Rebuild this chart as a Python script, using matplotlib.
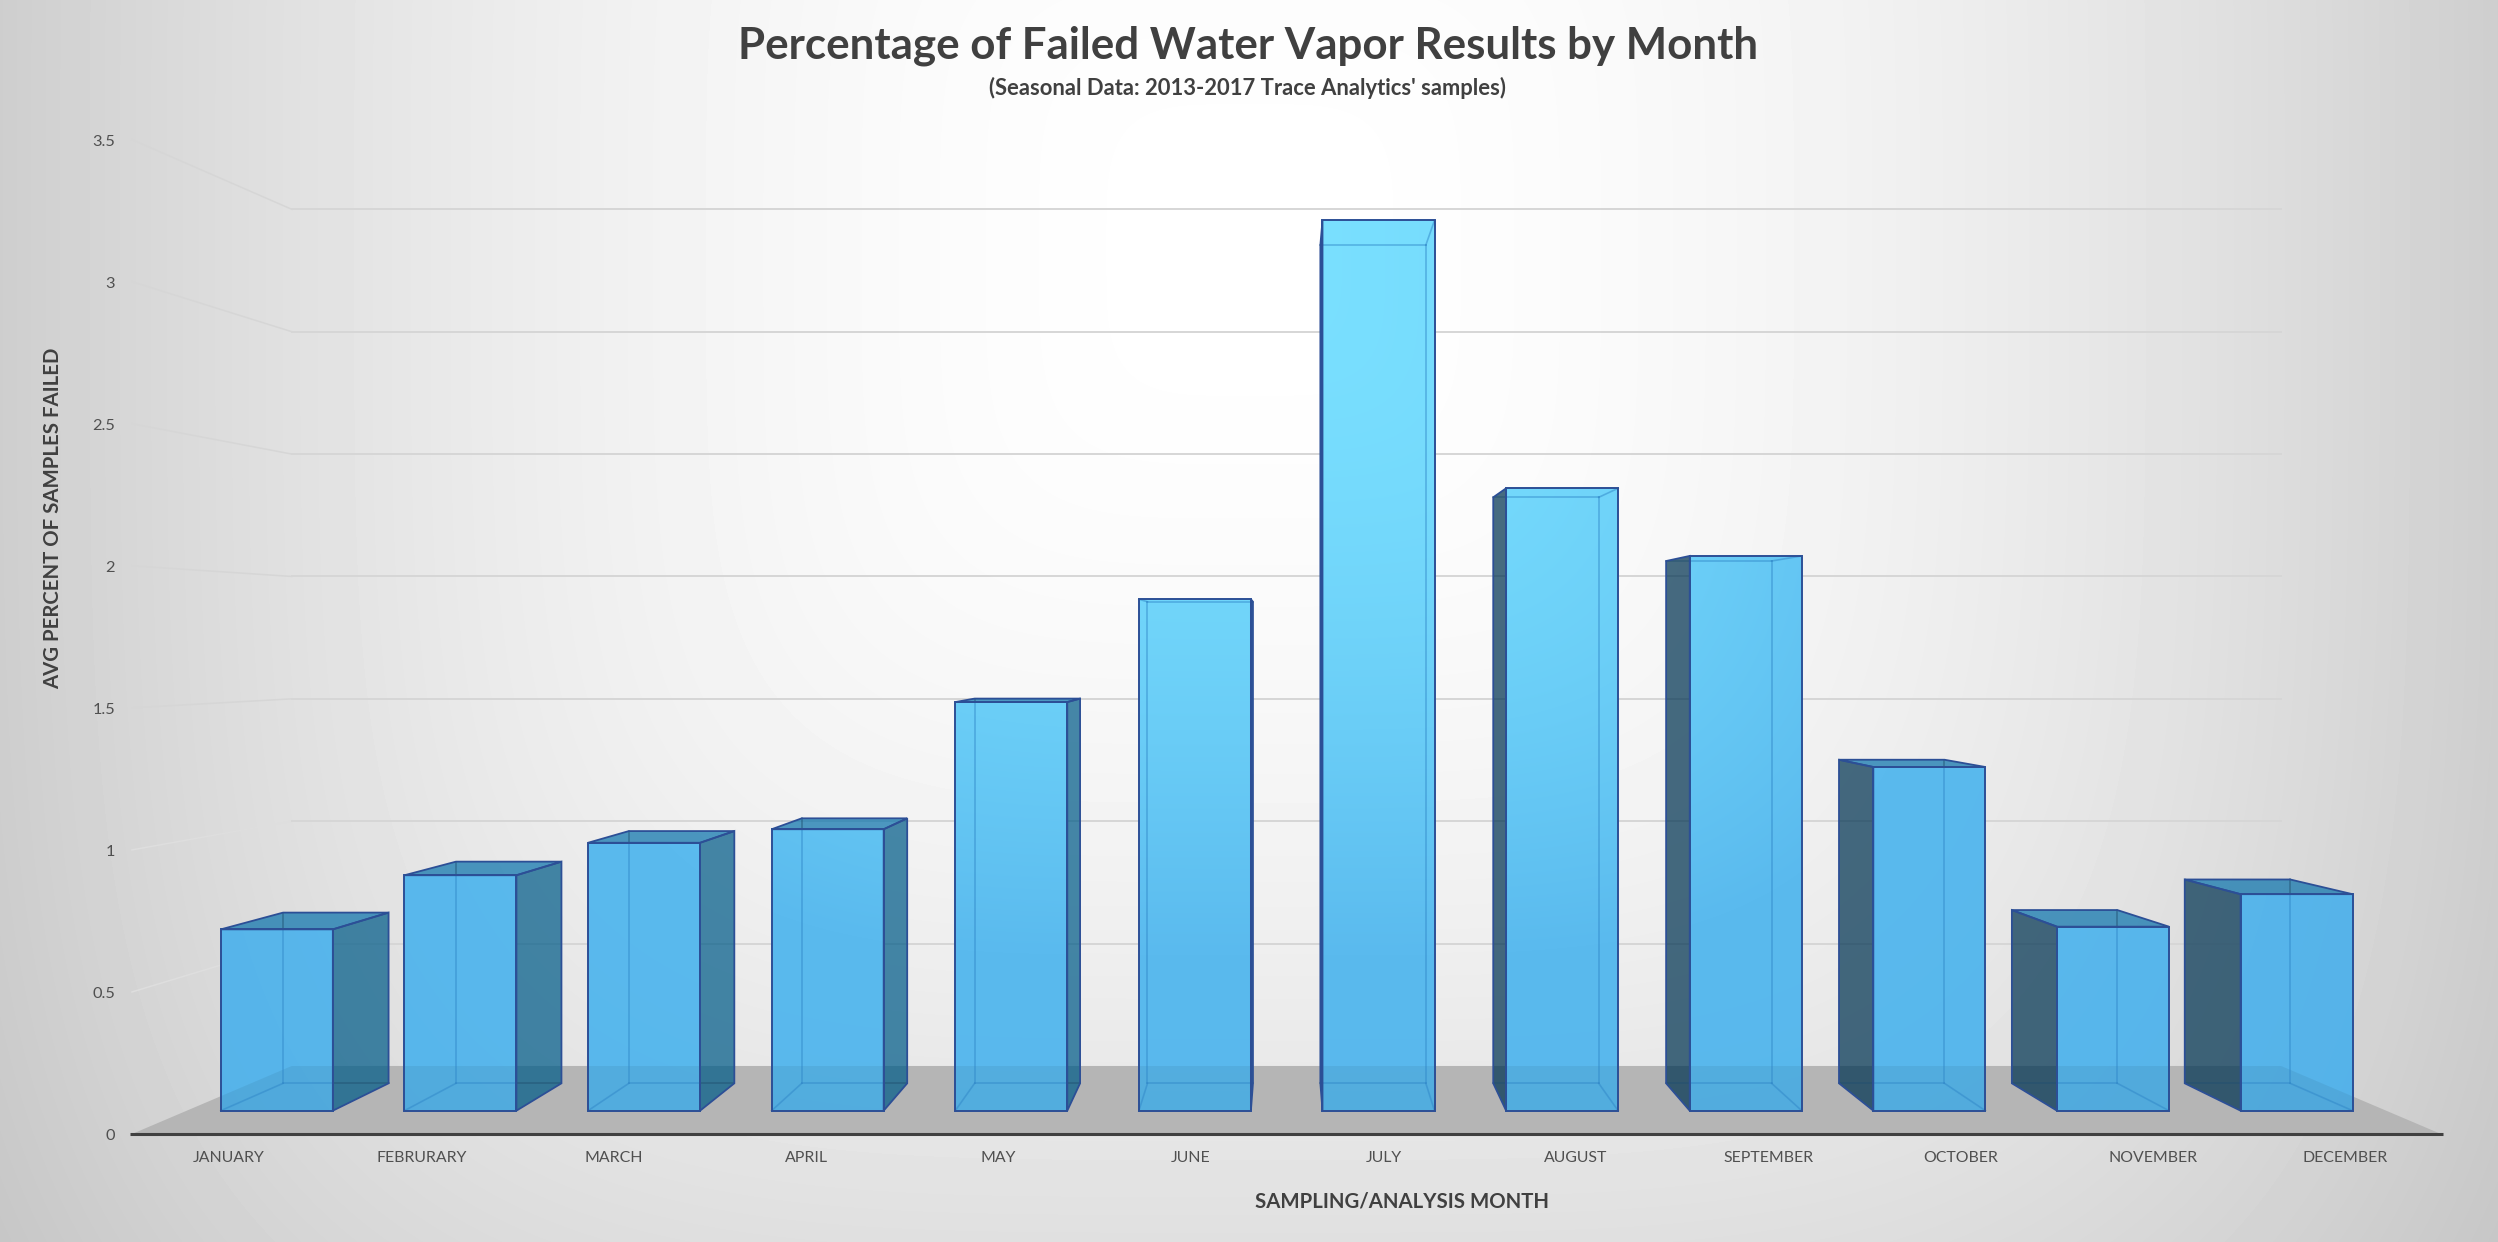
import numpy as np
import matplotlib
matplotlib.use("Agg")
import matplotlib.pyplot as plt
from matplotlib.patches import Polygon

plt.rcParams['font.family'] = ['Lato', 'DejaVu Sans']

months = ["JANUARY", "FEBRURARY", "MARCH", "APRIL", "MAY", "JUNE", "JULY",
          "AUGUST", "SEPTEMBER", "OCTOBER", "NOVEMBER", "DECEMBER"]
failed = [0.67, 0.87, 0.99, 1.04, 1.51, 1.89, 3.29, 2.30, 2.05, 1.27, 0.68, 0.80]
yticks = [0, 0.5, 1, 1.5, 2, 2.5, 3, 3.5]
yticklabels = ["0", "0.5", "1", "1.5", "2", "2.5", "3", "3.5"]

W, H = 2498, 1242

# perspective of the excel 3d chart, everything is in figure pixels
left, right = 132.0, 2441.0
base = 1134.0
unit = 284.1
cx, vy = 1286.0, 642.8
s_back = 0.8615   # wall
s_front_bar = 0.9525
s_back_bar = 0.8968
bar_first, bar_step = 226.5, 192.77
label_first, label_step = 229.0, 192.4
bar_w = 117.6


def project(x, v, s):
    return (cx + (x - cx) * s, vy + (base - vy) * s - v * unit * s)


def background():
    xx, yy = np.meshgrid(np.arange(W) + 0.5, np.arange(H) + 0.5)
    tx = np.abs(xx - 1250) / 1250
    ty = np.abs(yy - 250) / 1270
    t = (tx ** 4 + ty ** 4) ** 0.25
    return np.clip(255 - 49 * t ** 1.8, 0, 255)


grey = background()
# front faces of the bars pick up the backdrop
tint = np.dstack([np.interp(grey, [200, 238, 255], [84, 90, 122]),
                  np.interp(grey, [200, 238, 255], [176, 186, 224]),
                  np.interp(grey, [200, 238, 255], [231, 238, 255])])
tint = np.clip(tint, 0, 255).astype(np.uint8)

fig = plt.figure(figsize=(W / 100, H / 100), dpi=100)
ax = fig.add_axes([0, 0, 1, 1])
ax.imshow(grey, cmap="gray", vmin=0, vmax=255, extent=(0, W, H, 0),
          interpolation="bilinear", zorder=0)

# floor
floor_pts = [project(left, 0, 1), project(right, 0, 1),
             project(right, 0, s_back), project(left, 0, s_back)]
ax.add_patch(Polygon(floor_pts, fc="#B5B5B5", ec="none", zorder=1))

# gridlines on back and side wall
for v in yticks[1:]:
    a = project(left, v, 1)
    b = project(left, v, s_back)
    c = project(right, v, s_back)
    side_grid = "#D6D6D6" if v >= 1.5 else "#DEDEDE"
    ax.plot([a[0], b[0]], [a[1], b[1]], color=side_grid, lw=1.1, zorder=1)
    ax.plot([b[0], c[0]], [b[1], c[1]], color="#D6D6D6", lw=1.4, zorder=1)

edge = "#2C4F96"
inner = "#2F86C8"

for i, v in enumerate(failed):
    xc = bar_first + bar_step * i
    x0, x1 = xc - bar_w / 2, xc + bar_w / 2
    f_bl = project(x0, 0, s_front_bar)
    f_br = project(x1, 0, s_front_bar)
    f_tr = project(x1, v, s_front_bar)
    f_tl = project(x0, v, s_front_bar)
    b_bl = project(x0, 0, s_back_bar)
    b_br = project(x1, 0, s_back_bar)
    b_tr = project(x1, v, s_back_bar)
    b_tl = project(x0, v, s_back_bar)

    if xc < cx:
        side = [f_br, b_br, b_tr, f_tr]
        side_col = "#005B88"
        hid = [[f_bl, b_bl], [b_bl, b_tl], [b_bl, b_br]]
        if b_tl[1] > f_tl[1]:
            hid += [[f_tl, b_tl], [b_tl, b_tr]]
    else:
        side = [f_bl, b_bl, b_tl, f_tl]
        side_col = "#003351"
        hid = [[f_br, b_br], [b_br, b_tr], [b_bl, b_br]]
        if b_tr[1] > f_tr[1]:
            hid += [[f_tr, b_tr], [b_tl, b_tr]]
    ax.add_patch(Polygon(side, fc=side_col, ec="none", alpha=0.72, zorder=2))
    ax.add_patch(Polygon(side, fc="none", ec=edge, lw=1.3, zorder=4))

    if b_tl[1] < f_tl[1]:
        top = [f_tl, f_tr, b_tr, b_tl]
        ax.add_patch(Polygon(top, fc="#0B73AC", ec="none", alpha=0.72, zorder=2))
        ax.add_patch(Polygon(top, fc="none", ec=edge, lw=1.3, zorder=4))

    front = Polygon([f_bl, f_br, f_tr, f_tl], fc="none", ec="none", zorder=3)
    ax.add_patch(front)
    im = ax.imshow(tint, extent=(0, W, H, 0), interpolation="bilinear", zorder=3)
    im.set_clip_path(front)
    shade = Polygon(floor_pts, fc="black", ec="none", alpha=0.06, zorder=3.1)
    ax.add_patch(shade)
    shade.set_clip_path(front)

    # back edges seen through the box
    for p, q in hid:
        ax.plot([p[0], q[0]], [p[1], q[1]], color="#1F4F70", alpha=0.5, lw=1.2,
                zorder=2.5)
        ln, = ax.plot([p[0], q[0]], [p[1], q[1]], color=inner, alpha=0.5, lw=1.2,
                      zorder=3.5)
        ln.set_clip_path(front)
    ax.add_patch(Polygon([f_bl, f_br, f_tr, f_tl], fc="none", ec=edge, lw=1.4,
                         zorder=4))

# axis line
ax.plot([left - 2, right + 2], [base, base], color="#404040", lw=2.2,
        solid_capstyle="butt", zorder=5)

for v, lab in zip(yticks, yticklabels):
    ax.text(115, project(left, v, 1)[1] + 2.5, lab, ha="right", va="center",
            fontsize=11.8, color="#505050")

for i, m in enumerate(months):
    ax.text(label_first + label_step * i, 1158, m, ha="center", va="center",
            fontsize=11.4, color="#505050")

ax.text(1248, 46, "Percentage of Failed Water Vapor Results by Month",
        ha="center", va="center", fontsize=31.6, fontweight="bold", color="#404040")
ax.text(1248, 88, "(Seasonal Data: 2013-2017 Trace Analytics' samples)",
        ha="center", va="center", fontsize=15.85, fontweight="bold", color="#404040")
ax.text(1402, 1202, "SAMPLING/ANALYSIS MONTH", ha="center", va="center",
        fontsize=14.7, fontweight="bold", color="#404040")
ax.text(53.5, 518, "AVG PERCENT OF SAMPLES FAILED", ha="center", va="center",
        rotation=90, fontsize=14.7, fontweight="bold", color="#404040")

ax.set_xlim(0, W)
ax.set_ylim(H, 0)
ax.axis("off")

fig.savefig("out.png", dpi=100)
